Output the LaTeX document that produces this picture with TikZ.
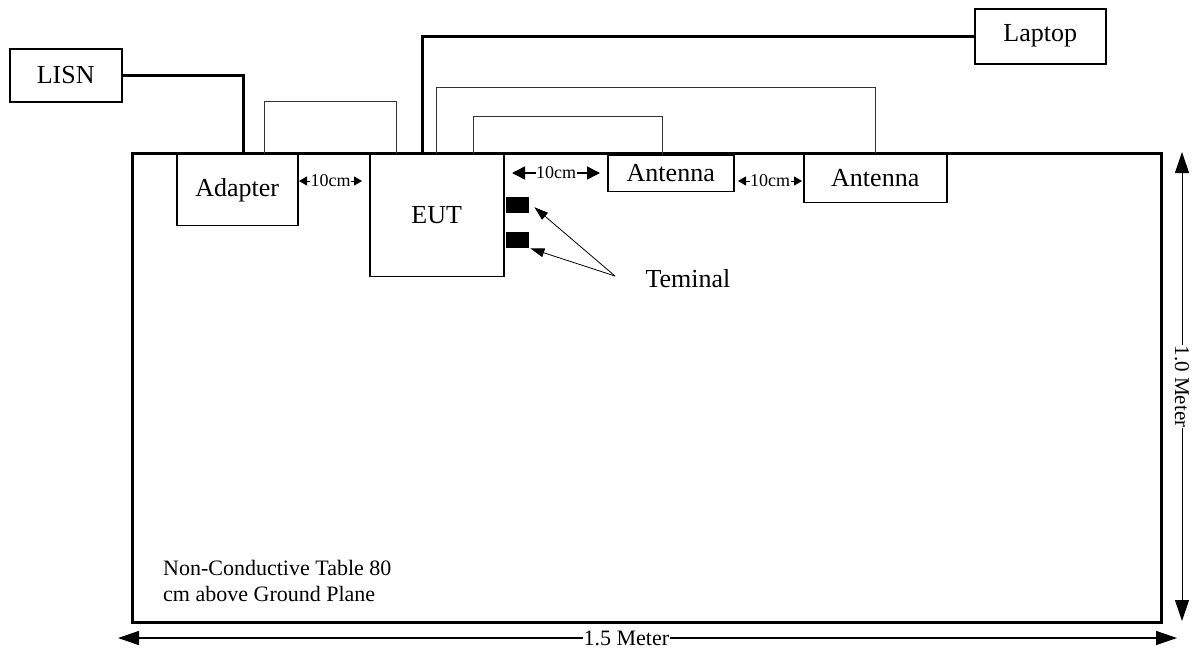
\documentclass[tikz,border=0pt]{standalone}
\usepackage{fontspec}
\setmainfont{Liberation Serif}
\usetikzlibrary{arrows.meta}
\begin{document}
\begin{tikzpicture}[x=1pt,y=-1pt,
  box/.style={draw, line width=1.5pt, inner sep=0pt, anchor=north west, font=\fontsize{26}{30}\selectfont},
  term/.style={fill=black, inner sep=0pt, anchor=north west, minimum width=23pt, minimum height=16pt},
  thickwire/.style={line width=3.2pt},
  thinwire/.style={line width=0.9pt, draw=black!80},
  dimsmall/.style={line width=1pt, {Triangle[length=8pt,width=9pt]}-{Triangle[length=8pt,width=9pt]}},
  dimmid/.style={line width=1.5pt, {Triangle[length=13pt,width=13pt]}-{Triangle[length=13pt,width=13pt]}},
  dimbig/.style={line width=1pt, {Triangle[length=21pt,width=14pt]}-{Triangle[length=21pt,width=14pt]}},
  dimlabel/.style={fill=white, inner sep=0.5pt},
  termarrow/.style={line width=0.8pt, -{Triangle[length=14pt,width=9pt]}}
]
\useasboundingbox (0,0) rectangle (1199,651);

% table
\node[draw, line width=3.2pt, inner sep=0pt, minimum width=1029pt, minimum height=469pt, anchor=north west] (table) at (131,152) {};

% boxes
\node[box, minimum width=112pt, minimum height=53pt] (lisn) at (9,48) {LISN};
\node[box, minimum width=131pt, minimum height=55pt] (laptop) at (974,8) {Laptop};
\node[box, minimum width=121pt, minimum height=71pt] (adapter) at (176,153.5) {Adapter};
\node[box, minimum width=134pt, minimum height=122pt] (eut) at (369,153.5) {EUT};
\node[box, minimum width=126pt, minimum height=36pt] (ant1) at (607,154.5) {Antenna};
\node[box, minimum width=143pt, minimum height=49pt] (ant2) at (803,152.5) {Antenna};

% terminals
\node[term] (term1) at (506,197) {};
\node[term] (term2) at (506,232) {};
\node[font=\fontsize{26}{30}\selectfont, inner sep=1pt] (teminal) at (688,279) {Teminal};
\coordinate (tapex) at (615,276);

% wires
\draw[thickwire] (lisn.east) -| ([xshift=6.5pt]adapter.north);
\draw[thickwire] ([xshift=-14.5pt]eut.north) |- (laptop.west);
\draw[thinwire] ([xshift=27.5pt]adapter.north) -- ++(0,-52) -| ([xshift=-40.5pt]eut.north);
\draw[thinwire] (eut.north) -- ++(0,-66) -| (ant2.north);
\draw[thinwire] ([xshift=37pt]eut.north) -- ++(0,-37) -| ([xshift=-8pt]ant1.north);

% terminal arrows
\draw[termarrow] (tapex) -- ([xshift=5pt,yshift=-2pt]term1.east);
\draw[termarrow] (tapex) -- ([xshift=1pt]term2.south east);

% 10cm dimensions
\coordinate (d1a) at (299,181); \coordinate (d1b) at (362,181);
\draw[dimsmall] (d1a) -- node[dimlabel, font=\fontsize{18}{20}\selectfont] {10cm} (d1b);
\coordinate (d2a) at (512,173); \coordinate (d2b) at (600,173);
\draw[dimmid] (d2a) -- node[dimlabel, font=\fontsize{18}{20}\selectfont] {10cm} (d2b);
\coordinate (d3a) at (738,181); \coordinate (d3b) at (802,181);
\draw[dimsmall] (d3a) -- node[dimlabel, font=\fontsize{18}{20}\selectfont] {10cm} (d3b);

% overall dimensions
\coordinate (v1) at (1182,152); \coordinate (v2) at (1182,621);
\draw[dimbig] (v1) -- node[dimlabel, rotate=-90, font=\fontsize{21}{24}\selectfont] {1.0 Meter} (v2);
\coordinate (h1) at (118,638); \coordinate (h2) at (1177,638);
\draw[dimbig, line width=1.5pt] (h1) -- node[dimlabel, pos=0.48, font=\fontsize{22}{24}\selectfont] {1.5 Meter} (h2);

% note
\node[anchor=north west, align=left, inner sep=0pt, font=\fontsize{22}{26}\selectfont] (note) at (163,560) {Non-Conductive Table 80\\cm above Ground Plane};
\end{tikzpicture}
\end{document}
